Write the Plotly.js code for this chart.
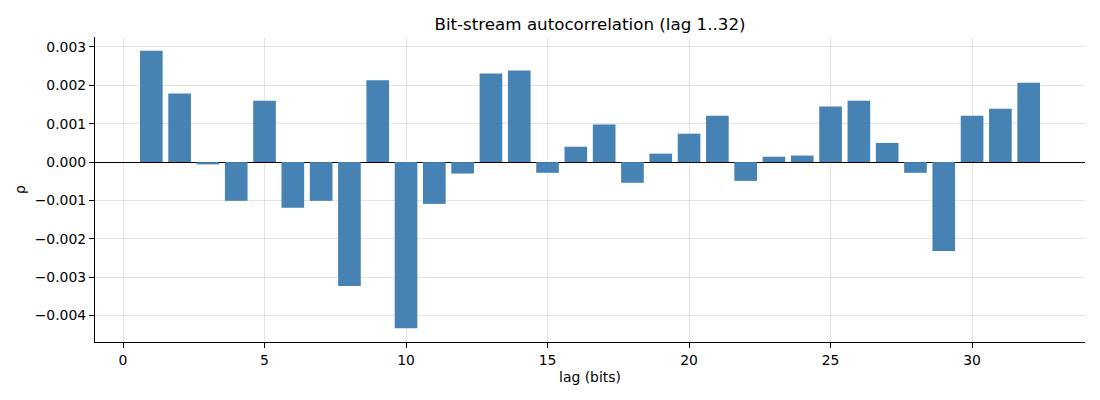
<!DOCTYPE html>
<html>
<head>
<meta charset="utf-8">
<script src="https://cdn.plot.ly/plotly-3.0.1.min.js"></script>
<style>
html, body { margin: 0; padding: 0; background: #fff; }
#chart { width: 1100px; height: 400px; }
</style>
</head>
<body>
<div id="chart"></div>
<script>
// lag values 1..32
let lags = [1,2,3,4,5,6,7,8,9,10,11,12,13,14,15,16,17,18,19,20,21,22,23,24,25,26,27,28,29,30,31,32]

// autocorrelation
let rho = [
0.00290, 0.00179, -0.00006, -0.00101, 0.00160, -0.00119, -0.00101, -0.00323,
0.00213, -0.00433, -0.00109, -0.00030, 0.00231, 0.00239, -0.00028, 0.00040,
0.00098, -0.00054, 0.00022, 0.00074, 0.00121, -0.00049, 0.00014, 0.00017,
0.00145, 0.00160, 0.00050, -0.00028, -0.00232, 0.00121, 0.00139, 0.00207
]

let xTicks = [0,5,10,15,20,25,30]
let yTicks = [-0.004,-0.003,-0.002,-0.001,0,0.001,0.002,0.003]

let font = "DejaVu Sans, sans-serif"

let trace = {
x: lags,
y: rho,
type: "bar",
width: 0.8,
marker: {color: "#4682b4", line: {width: 0}},
hoverinfo: "skip"
}

let layout = {
width: 1100,
height: 400,
margin: {l: 95, r: 15, t: 37, b: 58},
paper_bgcolor: "#ffffff",
plot_bgcolor: "#ffffff",
showlegend: false,
font: {family: font, size: 13.9, color: "#000"},
title: {
text: "Bit-stream autocorrelation (lag 1..32)",
font: {family: font, size: 16.7, color: "#000"},
x: 0.5, xref: "paper", xanchor: "center",
y: 1 - 24/400, yref: "container", yanchor: "middle"
},
xaxis: {
range: [-0.99, 33.99],
tickvals: xTicks,
ticktext: xTicks.map(String),
ticks: "outside", ticklen: 5, tickwidth: 1, tickcolor: "#000",
showline: true, linecolor: "#000", linewidth: 1.1, mirror: false,
showgrid: true, gridcolor: "rgba(0,0,0,0.1)", gridwidth: 1,
zeroline: false,
layer: "above traces",
title: {text: "lag (bits)", font: {family: font, size: 13.9, color: "#000"}, standoff: 5}
},
yaxis: {
range: [-0.00469, 0.00326],
tickvals: yTicks,
tickformat: ".3f",
ticks: "outside", ticklen: 5, tickwidth: 1, tickcolor: "#000",
showline: true, linecolor: "#000", linewidth: 1.1, mirror: false,
showgrid: true, gridcolor: "rgba(0,0,0,0.1)", gridwidth: 1,
zeroline: true, zerolinecolor: "#000", zerolinewidth: 1,
layer: "above traces",
title: {text: "ρ", font: {family: font, size: 13.9, color: "#000"}, standoff: 5}
}
}

Plotly.newPlot("chart", [trace], layout, {displayModeBar: false, staticPlot: true})
</script>
</body>
</html>
